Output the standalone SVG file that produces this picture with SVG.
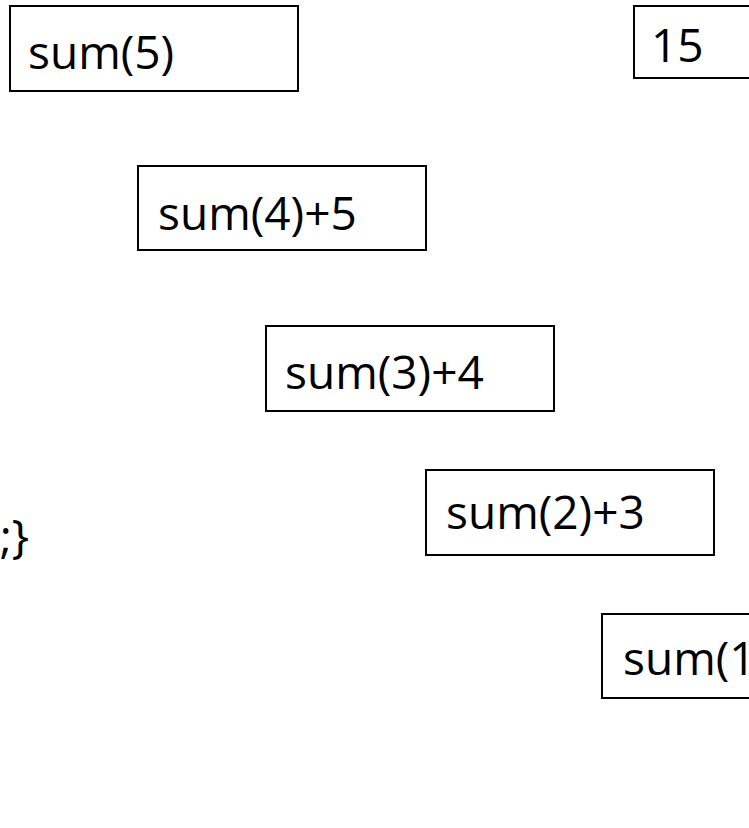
<svg xmlns="http://www.w3.org/2000/svg" width="749" height="828" viewBox="0 0 749 828">
<style>
.box{fill:#fff;stroke:#000;stroke-width:2}
.t{font-family:"Open Sans","Noto Sans",sans-serif;font-size:46px;fill:#000}
</style>
<rect width="749" height="828" fill="#fff"/>
<g id="node-sum5"><rect class="box" x="10" y="6" width="288" height="85"/><text class="t" x="28" y="69">sum(5)</text></g>
<g id="node-15"><rect class="box" x="634" y="6" width="200" height="72"/><text class="t" x="651" y="62">15</text></g>
<g id="node-sum4"><rect class="box" x="138" y="166" width="288" height="84"/><text class="t" x="158" y="230">sum(4)+5</text></g>
<g id="node-sum3"><rect class="box" x="266" y="326" width="288" height="85"/><text class="t" x="285" y="389">sum(3)+4</text></g>
<g id="node-sum2"><rect class="box" x="426" y="470" width="288" height="85"/><text class="t" x="446" y="529">sum(2)+3</text></g>
<g id="node-sum1"><rect class="box" x="602" y="614" width="200" height="84"/><text class="t" x="623" y="675">sum(1</text></g>
<g id="code"><text class="t" x="29" y="553" text-anchor="end">;}</text></g>
<g id="connectors"></g>
</svg>
